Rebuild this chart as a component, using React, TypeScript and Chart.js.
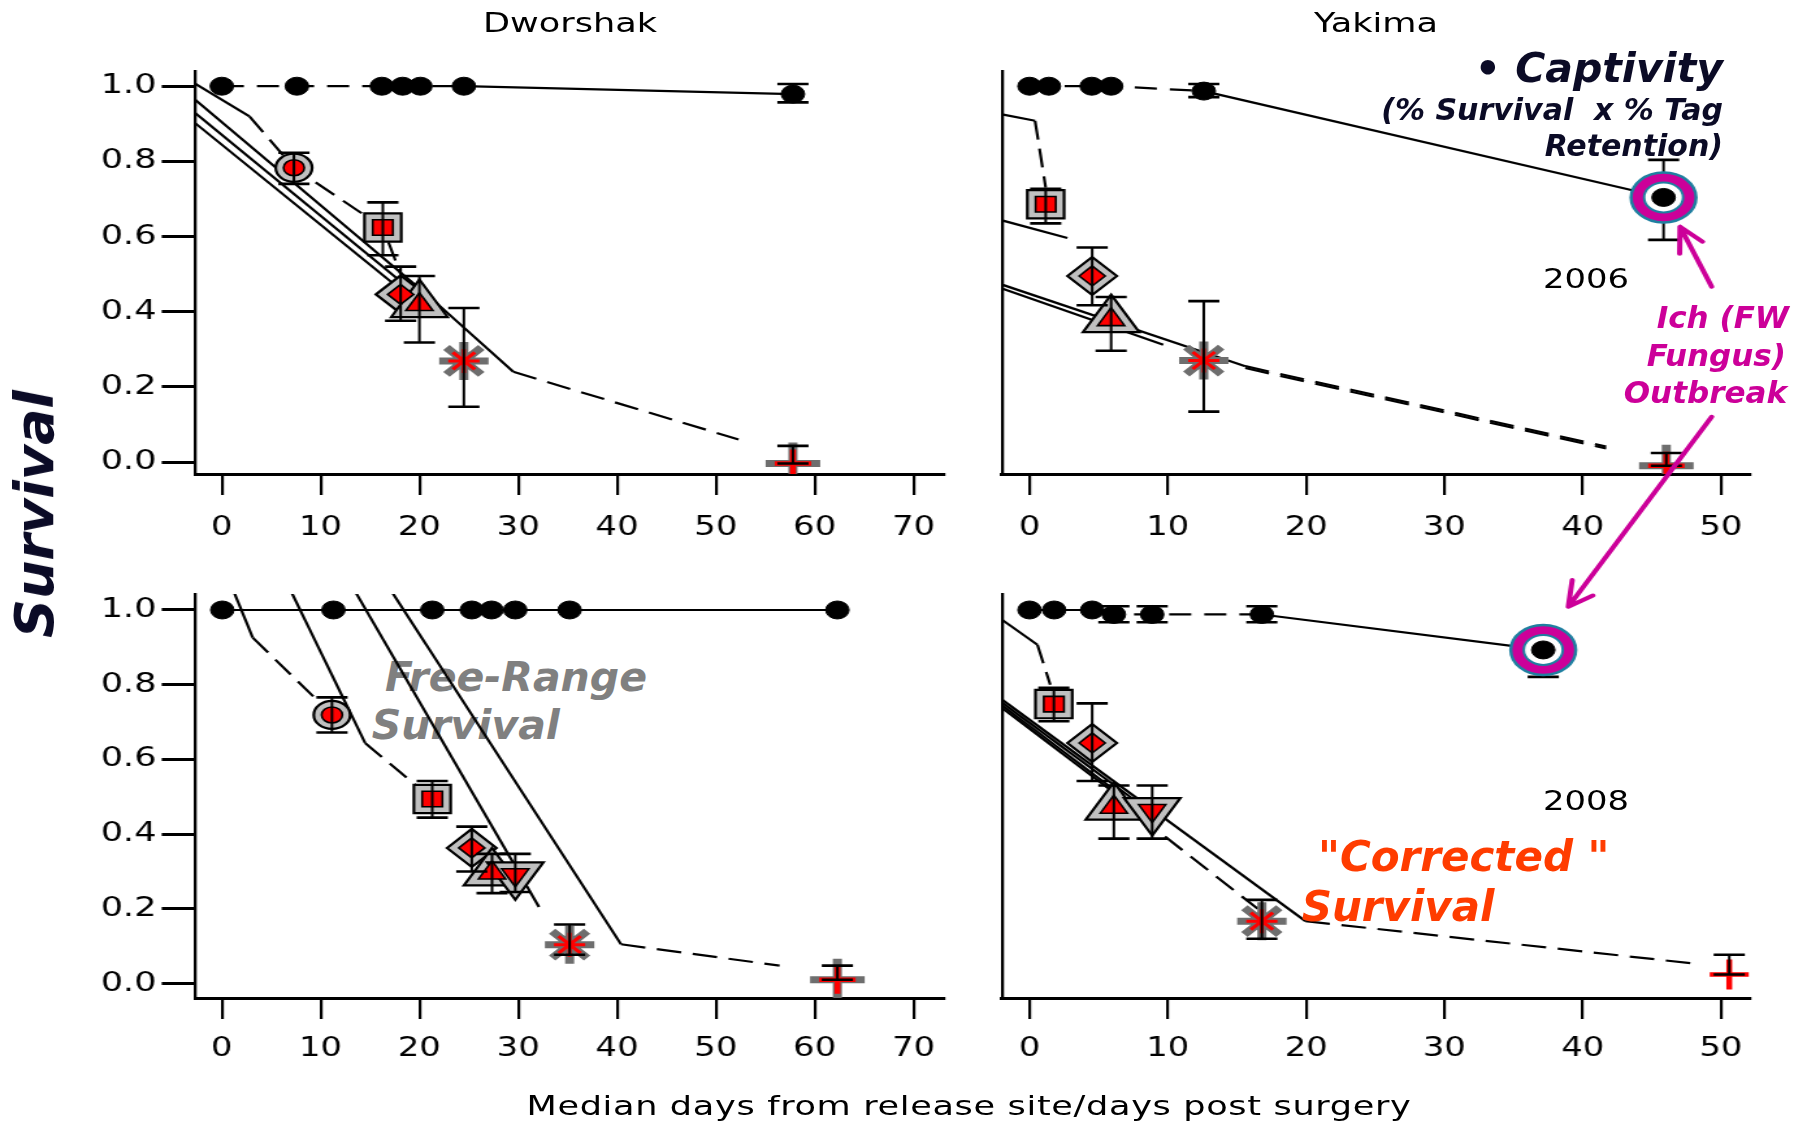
import React, { useEffect, useRef } from "react";
import { Chart, registerables } from "chart.js";

Chart.register(...registerables);

const S = 1.3; // horizontal stretch of the plot image
const CW = 1386;
const CH = 1121;
const FAMILY = "DejaVu Sans";

// ---------- ticks ----------
const dwTicksX = [0, 10, 20, 30, 40, 50, 60, 70];
const ykTicksX = [0, 10, 20, 30, 40, 50];
const survTicksY = [0, 0.2, 0.4, 0.6, 0.8, 1.0];

// ---------- Dworshak 2006 (top left) ----------
const dw06CaptX = [0, 7.6, 16.2, 18.3, 20.1, 24.5, 57.8];
const dw06CaptY = [1, 1, 1, 1, 1, 1, 0.979];
const dw06CaptSplit = 5;
const dw06CaptErrX = [57.8];
const dw06CaptErrLo = [0.957];
const dw06CaptErrHi = [1.006];
const dw06RingX: number[] = [];
const dw06RingY: number[] = [];
const dw06Shape = ["circle", "square", "diamond", "up", "star", "plus"];
const dw06X = [7.3, 16.3, 18.1, 20.0, 24.5, 57.8];
const dw06Y = [0.783, 0.624, 0.446, 0.419, 0.269, -0.004];
const dw06Lo = [0.74, 0.55, 0.376, 0.318, 0.147, -0.004];
const dw06Hi = [0.823, 0.691, 0.52, 0.495, 0.41, 0.043];
const dw06Solid = [
  [[-2.66, 1.006], [2.8, 0.92]],
  [[-2.66, 0.963], [21, 0.44], [29.5, 0.24]],
  [[-2.66, 0.928], [20, 0.44]],
  [[-2.66, 0.901], [19, 0.44]],
];
const dw06Dashed = [
  [[2.8, 0.92], [7.3, 0.783], [16.3, 0.624], [18.1, 0.5]],
  [[29.5, 0.24], [52.3, 0.06]],
];

// ---------- Yakima 2006 (top right) ----------
const yk06CaptX = [0, 1.4, 4.5, 5.9, 12.6, 45.85];
const yk06CaptY = [1, 1, 1, 1, 0.987, 0.704];
const yk06CaptSplit = 4;
const yk06CaptErrX = [12.6, 45.85];
const yk06CaptErrLo = [0.971, 0.591];
const yk06CaptErrHi = [1.006, 0.804];
const yk06RingX = [45.85];
const yk06RingY = [0.704];
const yk06Shape = ["square", "diamond", "up", "star", "plus"];
const yk06X = [1.17, 4.53, 5.9, 12.6, 46.05];
const yk06Y = [0.686, 0.495, 0.379, 0.27, -0.01];
const yk06Lo = [0.635, 0.417, 0.296, 0.134, -0.01];
const yk06Hi = [0.727, 0.571, 0.439, 0.428, 0.024];
const yk06Solid = [
  [[-1.99, 0.925], [0.4, 0.908]],
  [[-1.99, 0.643], [2.74, 0.596]],
  [[-1.99, 0.472], [15.6, 0.255]],
  [[-1.99, 0.462], [9.67, 0.312]],
];
const yk06Dashed = [
  [[0.4, 0.908], [1.17, 0.73]],
  [[15.6, 0.255], [41.7, 0.041]],
  [[15.6, 0.25], [41.7, 0.036]],
];

// ---------- Dworshak 2008 (bottom left) ----------
const dw08CaptX = [0.05, 11.3, 21.3, 25.3, 27.3, 29.7, 35.2, 62.3];
const dw08CaptY = [1, 1, 1, 1, 1, 1, 1, 1];
const dw08CaptSplit = 0;
const dw08CaptErrX: number[] = [];
const dw08CaptErrLo: number[] = [];
const dw08CaptErrHi: number[] = [];
const dw08RingX: number[] = [];
const dw08RingY: number[] = [];
const dw08Shape = ["circle", "square", "diamond", "up", "down", "star", "plus"];
const dw08X = [11.15, 21.3, 25.3, 27.35, 29.7, 35.2, 62.3];
const dw08Y = [0.719, 0.494, 0.363, 0.296, 0.291, 0.104, 0.01];
const dw08Lo = [0.672, 0.444, 0.3, 0.242, 0.245, 0.077, 0.01];
const dw08Hi = [0.766, 0.542, 0.42, 0.347, 0.347, 0.158, 0.048];
const dw08Solid = [
  [[1.28, 1.045], [3.13, 0.926]],
  [[7.1, 1.045], [14.5, 0.644]],
  [[13.6, 1.045], [32.1, 0.205]],
  [[17.3, 1.045], [40.4, 0.105]],
];
const dw08Dashed = [
  [[3.13, 0.926], [11.15, 0.72]],
  [[14.5, 0.644], [21.3, 0.494]],
  [[40.4, 0.105], [56.45, 0.048]],
];

// ---------- Yakima 2008 (bottom right) ----------
const yk08CaptX = [0, 1.78, 4.53, 6.1, 8.87, 16.8, 37.15];
const yk08CaptY = [1, 1, 1, 0.988, 0.988, 0.988, 0.893];
const yk08CaptSplit = 5;
const yk08CaptErrX = [6.1, 8.87, 16.8, 37.15];
const yk08CaptErrLo = [0.967, 0.967, 0.967, 0.821];
const yk08CaptErrHi = [1.01, 1.01, 1.01, 0.915];
const yk08RingX = [37.15];
const yk08RingY = [0.893];
const yk08Shape = ["square", "diamond", "up", "down", "star", "plainPlus"];
const yk08X = [1.76, 4.53, 6.1, 8.87, 16.8, 50.6];
const yk08Y = [0.748, 0.644, 0.472, 0.463, 0.167, 0.024];
const yk08Lo = [0.702, 0.542, 0.388, 0.388, 0.12, 0.024];
const yk08Hi = [0.792, 0.75, 0.53, 0.53, 0.224, 0.077];
const yk08Solid = [
  [[-1.99, 0.974], [0.57, 0.907]],
  [[-1.99, 0.76], [19.95, 0.167]],
  [[-1.99, 0.752], [8, 0.48]],
  [[-1.99, 0.745], [7.5, 0.48]],
  [[-1.99, 0.738], [6.5, 0.5]],
];
const yk08Dashed = [
  [[0.57, 0.907], [1.5, 0.8]],
  [[6.1, 0.5], [16.5, 0.2]],
  [[19.95, 0.167], [48.4, 0.052]],
];

// ---------- Ich outbreak arrows (Yakima 2006 data coords) ----------
const arrowTailX = [49.33, 49.33];
const arrowTailY = [0.4665, 0.1205];
const arrowTipX = [47.04, 38.96];
const arrowTipY = [0.626, -0.385];

// ---------- colours ----------
const NAVY = "#0B0B26";
const ICH = "#CC0099";
const TEAL = "#1F7FA0";
const ORANGE = "#FF3C00";
const GRAY_TXT = "#808080";

const SHAPE_STYLE: Record<string, string> = {
  circle: "circle", square: "rect", diamond: "rectRot", up: "triangle", down: "triangle",
  star: "star", plus: "cross", plainPlus: "cross",
};
const OUTER_R: Record<string, number> = {
  circle: 14, square: 20, diamond: 19, up: 25, down: 25, star: 19, plus: 21, plainPlus: 0,
};
const INNER_R: Record<string, number> = {
  circle: 8, square: 11, diamond: 10, up: 12, down: 12, star: 12, plus: 14, plainPlus: 15,
};
const isStroke = (s: string) => s === "star" || s === "plus" || s === "plainPlus";

type Geo = { l: number; r: number; t: number; b: number; xMin: number; xMax: number; yMin: number; yMax: number };
const geoTL: Geo = { l: 195.5, r: 944, t: 71.4, b: 474, xMin: -2.66, xMax: 73.09, yMin: -0.0319, yMax: 1.0394 };
const geoTR: Geo = { l: 1002, r: 1750, t: 71.4, b: 474, xMin: -1.99, xMax: 52.1, yMin: -0.0319, yMax: 1.0394 };
const geoBL: Geo = { l: 195.5, r: 944, t: 594, b: 998, xMin: -2.66, xMax: 73.09, yMin: -0.0388, yMax: 1.0428 };
const geoBR: Geo = { l: 1002, r: 1750, t: 594, b: 998, xMin: -1.99, xMax: 52.1, yMin: -0.0388, yMax: 1.0428 };

type PanelSpec = {
  geo: Geo; xTicks: number[]; yLabels: boolean; xPad: number;
  captX: number[]; captY: number[]; captSplit: number;
  errX: number[]; errLo: number[]; errHi: number[];
  ringX: number[]; ringY: number[];
  shape: string[]; frX: number[]; frY: number[]; frLo: number[]; frHi: number[];
  solid: number[][][]; dashed: number[][][]; arrows?: boolean;
};

const panels: PanelSpec[] = [
  {
    geo: geoTL, xTicks: dwTicksX, yLabels: true, xPad: 18,
    captX: dw06CaptX, captY: dw06CaptY, captSplit: dw06CaptSplit,
    errX: dw06CaptErrX, errLo: dw06CaptErrLo, errHi: dw06CaptErrHi,
    ringX: dw06RingX, ringY: dw06RingY,
    shape: dw06Shape, frX: dw06X, frY: dw06Y, frLo: dw06Lo, frHi: dw06Hi,
    solid: dw06Solid, dashed: dw06Dashed,
  },
  {
    geo: geoTR, xTicks: ykTicksX, yLabels: false, xPad: 18,
    captX: yk06CaptX, captY: yk06CaptY, captSplit: yk06CaptSplit,
    errX: yk06CaptErrX, errLo: yk06CaptErrLo, errHi: yk06CaptErrHi,
    ringX: yk06RingX, ringY: yk06RingY,
    shape: yk06Shape, frX: yk06X, frY: yk06Y, frLo: yk06Lo, frHi: yk06Hi,
    solid: yk06Solid, dashed: yk06Dashed, arrows: true,
  },
  {
    geo: geoBL, xTicks: dwTicksX, yLabels: true, xPad: 15,
    captX: dw08CaptX, captY: dw08CaptY, captSplit: dw08CaptSplit,
    errX: dw08CaptErrX, errLo: dw08CaptErrLo, errHi: dw08CaptErrHi,
    ringX: dw08RingX, ringY: dw08RingY,
    shape: dw08Shape, frX: dw08X, frY: dw08Y, frLo: dw08Lo, frHi: dw08Hi,
    solid: dw08Solid, dashed: dw08Dashed,
  },
  {
    geo: geoBR, xTicks: ykTicksX, yLabels: false, xPad: 15,
    captX: yk08CaptX, captY: yk08CaptY, captSplit: yk08CaptSplit,
    errX: yk08CaptErrX, errLo: yk08CaptErrLo, errHi: yk08CaptErrHi,
    ringX: yk08RingX, ringY: yk08RingY,
    shape: yk08Shape, frX: yk08X, frY: yk08Y, frLo: yk08Lo, frHi: yk08Hi,
    solid: yk08Solid, dashed: yk08Dashed,
  },
];

const arrowPlugin = {
  id: "ichArrows",
  afterDraw(chart: any) {
    const ctx = chart.ctx;
    const xs = chart.scales.x;
    const ys = chart.scales.y;
    ctx.save();
    ctx.strokeStyle = ICH;
    ctx.lineWidth = 4;
    ctx.lineCap = "round";
    ctx.lineJoin = "round";
    for (let i = 0; i < arrowTailX.length; i++) {
      const x1 = xs.getPixelForValue(arrowTailX[i]);
      const y1 = ys.getPixelForValue(arrowTailY[i]);
      const x2 = xs.getPixelForValue(arrowTipX[i]);
      const y2 = ys.getPixelForValue(arrowTipY[i]);
      const ang = Math.atan2(y2 - y1, (x2 - x1) * S);
      const L = 27;
      ctx.beginPath();
      ctx.moveTo(x1, y1);
      ctx.lineTo(x2, y2);
      for (const sgn of [-1, 1]) {
        const a2 = ang + Math.PI + sgn * 0.5;
        ctx.moveTo(x2, y2);
        ctx.lineTo(x2 + (Math.cos(a2) * L) / S, y2 + Math.sin(a2) * L);
      }
      ctx.stroke();
    }
    ctx.restore();
  },
};

function buildConfig(p: PanelSpec): any {
  const g = p.geo;
  const lc = g.l / S;
  const rc = g.r / S;
  const yAxisW = p.yLabels ? 90 : 4;
  const xAxisH = 100;
  const datasets: any[] = [];
  const lineDs = (seg: number[][], dash: number[], width = 2.2) => ({
    data: seg.map(([x, y]) => ({ x, y })),
    showLine: true,
    borderColor: "#000",
    borderWidth: width,
    borderDash: dash,
    pointRadius: 0,
    order: 10,
    tension: 0,
    fill: false,
  });
  p.solid.forEach((s) => datasets.push(lineDs(s, [])));
  p.dashed.forEach((s) => datasets.push(lineDs(s, [19, 9])));
  const capt = p.captX.map((x, i) => [x, p.captY[i]]);
  if (p.captSplit > 0) datasets.push(lineDs(capt.slice(0, p.captSplit + 1), [17, 10]));
  datasets.push(lineDs(capt.slice(p.captSplit), []));

  const frPts = p.frX.map((x, i) => ({ x, y: p.frY[i] }));
  // outer gray markers
  datasets.push({
    data: frPts,
    showLine: false,
    pointStyle: p.shape.map((s) => SHAPE_STYLE[s]),
    pointRadius: p.shape.map((s) => OUTER_R[s]),
    pointRotation: p.shape.map((s) => (s === "down" ? 180 : 0)),
    pointBackgroundColor: p.shape.map((s) => (isStroke(s) ? "rgba(0,0,0,0)" : "#C0C0C0")),
    pointBorderColor: p.shape.map((s) => (isStroke(s) ? "#6E6E6E" : "#000")),
    pointBorderWidth: p.shape.map((s) => (s === "star" ? 7 : isStroke(s) ? 7 : 2.2)),
    order: 8,
  });
  // inner red markers
  datasets.push({
    data: frPts,
    showLine: false,
    pointStyle: p.shape.map((s) => SHAPE_STYLE[s]),
    pointRadius: p.shape.map((s) => INNER_R[s]),
    pointRotation: p.shape.map((s) => (s === "down" ? 180 : 0)),
    pointBackgroundColor: p.shape.map((s) => (isStroke(s) ? "rgba(0,0,0,0)" : "#FF0000")),
    pointBorderColor: p.shape.map((s) => (isStroke(s) ? "#FF0000" : "#000")),
    pointBorderWidth: p.shape.map((s) => (s === "star" ? 3 : isStroke(s) ? 4.5 : 1.6)),
    order: 7,
  });
  // error bars
  const errDs = (x: number, lo: number, hi: number) => ({
    data: [{ x, y: lo }, { x, y: hi }],
    showLine: true,
    borderColor: "#000",
    borderWidth: 2,
    pointStyle: "line",
    pointRadius: 12,
    pointBorderColor: "#000",
    pointBorderWidth: 2.6,
    order: 6,
  });
  p.frX.forEach((x, i) => datasets.push(errDs(x, p.frLo[i], p.frHi[i])));
  p.errX.forEach((x, i) => datasets.push(errDs(x, p.errLo[i], p.errHi[i])));
  // outbreak ring
  if (p.ringX.length) {
    const ringPts = p.ringX.map((x, i) => ({ x, y: p.ringY[i] }));
    datasets.push({
      data: ringPts, showLine: false, pointStyle: "circle", pointRadius: 25,
      pointBackgroundColor: ICH, pointBorderColor: TEAL, pointBorderWidth: 2.5, order: 5,
    });
    datasets.push({
      data: ringPts, showLine: false, pointStyle: "circle", pointRadius: 15,
      pointBackgroundColor: "#FFFFFF", pointBorderColor: TEAL, pointBorderWidth: 2, order: 4,
    });
  }
  // captivity dots
  datasets.push({
    data: p.captX.map((x, i) => ({ x, y: p.captY[i] })),
    showLine: false, pointStyle: "circle", pointRadius: 9,
    pointBackgroundColor: "#000", pointBorderColor: "#000", pointBorderWidth: 1, order: 3,
  });

  return {
    type: "scatter",
    data: { datasets },
    plugins: p.arrows ? [arrowPlugin] : [],
    options: {
      responsive: false,
      animation: false,
      events: [],
      layout: {
        padding: { left: lc - yAxisW, right: CW - rc, top: g.t, bottom: CH - g.b - xAxisH },
      },
      plugins: { legend: { display: false }, tooltip: { enabled: false }, title: { display: false } },
      scales: {
        x: {
          type: "linear",
          position: "bottom",
          min: g.xMin,
          max: g.xMax,
          afterBuildTicks: (s: any) => { s.ticks = p.xTicks.map((v) => ({ value: v })); },
          afterFit: (s: any) => { s.height = xAxisH; s.paddingLeft = 0; s.paddingRight = 0; },
          ticks: {
            callback: (v: any) => String(v),
            color: "#000",
            font: { family: FAMILY, size: 26 },
            padding: p.xPad,
            autoSkip: false,
            maxRotation: 0,
            minRotation: 0,
          },
          grid: { display: true, drawOnChartArea: false, drawTicks: true, tickLength: 21, color: "#000", lineWidth: 2.2 },
          border: { display: true, color: "#000", width: 3 },
        },
        y: {
          type: "linear",
          position: "left",
          min: g.yMin,
          max: g.yMax,
          afterBuildTicks: (s: any) => { s.ticks = survTicksY.map((v) => ({ value: v })); },
          afterFit: (s: any) => { s.width = yAxisW; s.paddingTop = 0; s.paddingBottom = 0; },
          ticks: {
            display: p.yLabels,
            callback: (v: any) => Number(v).toFixed(1),
            color: "#000",
            font: { family: FAMILY, size: 27 },
            padding: 4,
            autoSkip: false,
          },
          grid: p.yLabels
            ? { display: true, drawOnChartArea: false, drawTicks: true, tickLength: 26, color: "#000", lineWidth: 3 }
            : { display: false },
          border: { display: true, color: "#000", width: 2.3 },
        },
      },
    },
  };
}

function PanelCanvas({ spec }: { spec: PanelSpec }) {
  const ref = useRef<HTMLCanvasElement>(null);
  useEffect(() => {
    const chart = new Chart(ref.current as HTMLCanvasElement, buildConfig(spec));
    return () => chart.destroy();
  }, [spec]);
  return <canvas ref={ref} width={CW} height={CH} style={{ position: "absolute", left: 0, top: 0 }} />;
}

function Txt(props: {
  x: number; y: number; size: number; align?: "left" | "right" | "center";
  children: React.ReactNode; style?: React.CSSProperties;
}) {
  const { x, y, size, align = "left", children, style } = props;
  const top = y - 0.846 * size;
  const base: React.CSSProperties = {
    position: "absolute",
    top,
    fontSize: size,
    lineHeight: `${size}px`,
    whiteSpace: "pre",
    fontFamily: FAMILY,
    color: "#000",
  };
  if (align === "left") return <div style={{ ...base, left: x, ...style }}>{children}</div>;
  if (align === "right")
    return <div style={{ ...base, left: x - 2000, width: 2000, textAlign: "right", ...style }}>{children}</div>;
  return <div style={{ ...base, left: x - 1000, width: 2000, textAlign: "center", ...style }}>{children}</div>;
}

const boldIt: React.CSSProperties = { fontWeight: "bold", fontStyle: "italic" };

export default function App() {
  return (
    <div
      style={{
        position: "fixed", left: 0, top: 0, width: 1802, height: 1121,
        background: "#fff", overflow: "hidden",
      }}
    >
      {/* annotation lying under the plot lines */}
      <Txt x={385} y={691.7} size={41} style={{ ...boldIt, color: GRAY_TXT }}>Free-Range</Txt>
      <Txt x={371.7} y={740} size={41} style={{ ...boldIt, color: GRAY_TXT }}>Survival</Txt>

      {/* stretched plot layer */}
      <div
        style={{
          position: "absolute", left: 0, top: 0, width: CW, height: CH,
          transform: `scaleX(${S})`, transformOrigin: "0 0",
        }}
      >
        {panels.map((p, i) => (
          <PanelCanvas key={i} spec={p} />
        ))}
        <Txt x={570 / S} y={31.4} size={27} align="center">Dworshak</Txt>
        <Txt x={1376 / S} y={31.4} size={27} align="center">Yakima</Txt>
        <Txt x={1586 / S} y={287.5} size={26} align="center">2006</Txt>
        <Txt x={1586 / S} y={810.4} size={26} align="center">2008</Txt>
        <Txt x={969 / S} y={1114.5} size={27} align="center" style={{ letterSpacing: 0.5 }}>
          Median days from release site/days post surgery
        </Txt>
      </div>

      {/* slide annotations */}
      <div
        style={{
          position: "absolute", left: 35, top: 514, transform: "translate(-50%, -50%) rotate(-90deg)",
          fontFamily: FAMILY, fontSize: 54, lineHeight: "54px", whiteSpace: "pre", color: NAVY, ...boldIt,
        }}
      >
        Survival
      </div>
      <Txt x={1723} y={83} size={41} align="right" style={{ ...boldIt, color: NAVY }}>• Captivity</Txt>
      <Txt x={1723} y={120.7} size={30} align="right" style={{ ...boldIt, color: NAVY }}>(% Survival  x % Tag</Txt>
      <Txt x={1723} y={156.7} size={30} align="right" style={{ ...boldIt, color: NAVY }}>Retention)</Txt>
      <Txt x={1789} y={328.3} size={31} align="right" style={{ ...boldIt, color: ICH }}>Ich (FW</Txt>
      <Txt x={1786} y={366.7} size={31} align="right" style={{ ...boldIt, color: ICH }}>Fungus)</Txt>
      <Txt x={1787} y={403.3} size={31} align="right" style={{ ...boldIt, color: ICH }}>Outbreak</Txt>
      <Txt x={1318} y={871.7} size={42} style={{ ...boldIt, color: ORANGE }}>"Corrected "</Txt>
      <Txt x={1301.7} y={921.7} size={42} style={{ ...boldIt, color: ORANGE }}>Survival</Txt>
    </div>
  );
}
